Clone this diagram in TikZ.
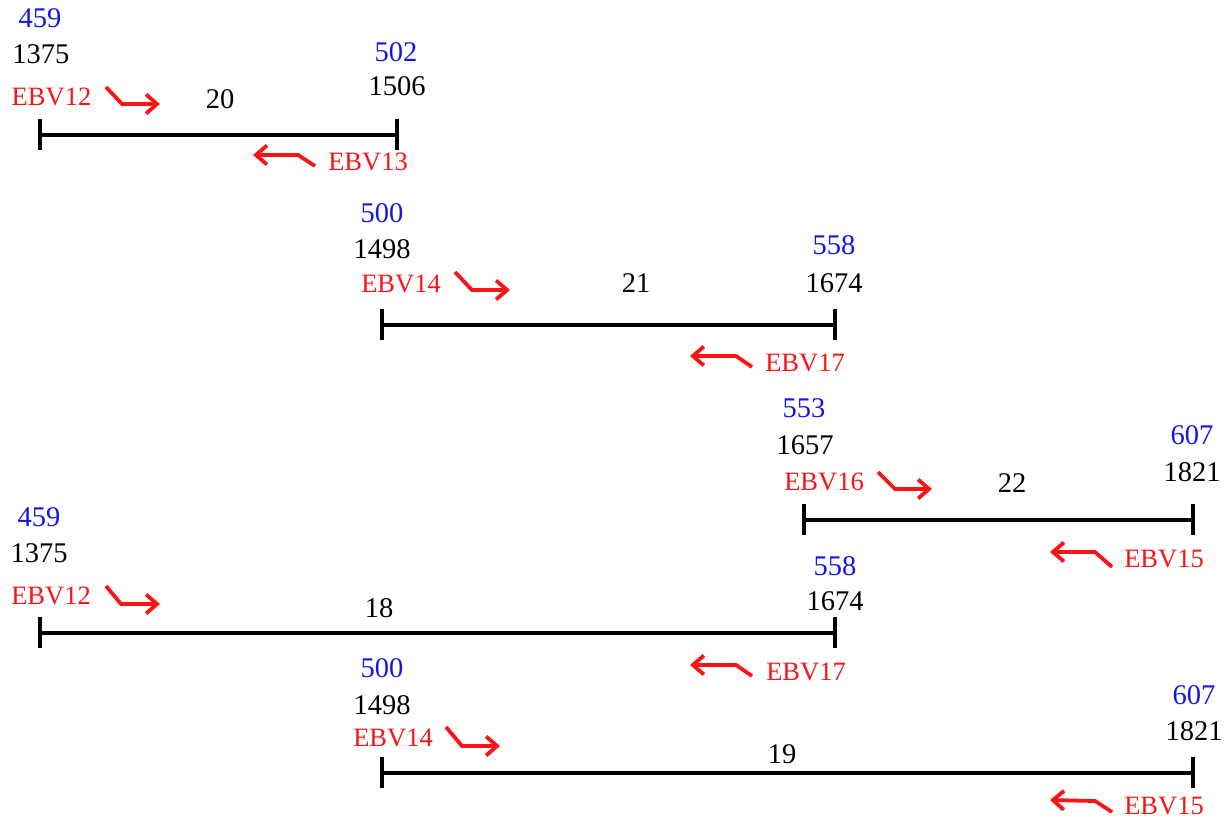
\documentclass[tikz,border=0pt]{standalone}
\usepackage{fontspec}
\setmainfont{Liberation Serif}
\usetikzlibrary{arrows.meta}
\definecolor{idxblue}{RGB}{20,20,235}
\definecolor{primred}{RGB}{250,20,20}
\tikzset{
  num/.style={inner sep=0pt, font=\fontsize{28.5}{30}\selectfont, text=black},
  idx/.style={inner sep=0pt, font=\fontsize{28.5}{30}\selectfont, text=idxblue},
  lab/.style={inner sep=0pt, font=\fontsize{26.5}{28}\selectfont, text=primred},
  barline/.style={line width=4pt, black},
  tickline/.style={line width=4.5pt, black},
  primer/.style={line width=3.8pt, primred, -{Straight Barb[length=11pt,width=19pt]}},
}
\begin{document}
\begin{tikzpicture}[x=1pt,y=-1pt]
\useasboundingbox (0,0) rectangle (1230,821);
% ---------- Fragment 20 ----------
\coordinate (a1) at (40,135); \coordinate (a2) at (397,135);
\draw[barline] (a1) -- (a2);
\draw[tickline] ([yshift=-15pt]a1) -- ([yshift=16pt]a1);
\draw[tickline] ([yshift=-15pt]a2) -- ([yshift=16pt]a2);
\node[idx] (a459) at (40,18) {459};
\node[num] (a1375) at (41,54) {1375};
\node[lab] (aEBV12) at (51.5,97) {EBV12};
\node[num] (a20) at (220,99) {20};
\node[idx] (a502) at (396,52) {502};
\node[num] (a1506) at (397,86) {1506};
\node[lab] (aEBV13) at (368,162) {EBV13};
\coordinate (af1) at (106,87); \coordinate (af2) at (122,104); \coordinate (af3) at (160,104);
\draw[primer] (af1) -- (af2) -- (af3);
\coordinate (ar1) at (315,166); \coordinate (ar2) at (298,155); \coordinate (ar3) at (253,155);
\draw[primer] (ar1) -- (ar2) -- (ar3);
% ---------- Fragment 21 ----------
\coordinate (b1) at (382,325); \coordinate (b2) at (835,325);
\draw[barline] (b1) -- (b2);
\draw[tickline] ([yshift=-15pt]b1) -- ([yshift=16pt]b1);
\draw[tickline] ([yshift=-15pt]b2) -- ([yshift=16pt]b2);
\node[idx] (b500) at (382,213) {500};
\node[num] (b1498) at (382,249) {1498};
\node[lab] (bEBV14) at (401,284) {EBV14};
\node[num] (b21) at (636,283) {21};
\node[idx] (b558) at (834,245) {558};
\node[num] (b1674) at (834,283) {1674};
\node[lab] (bEBV17) at (805,363) {EBV17};
\coordinate (bf1) at (455,272); \coordinate (bf2) at (472,290); \coordinate (bf3) at (510,290);
\draw[primer] (bf1) -- (bf2) -- (bf3);
\coordinate (br1) at (752,367); \coordinate (br2) at (736,356); \coordinate (br3) at (690,356);
\draw[primer] (br1) -- (br2) -- (br3);
% ---------- Fragment 22 ----------
\coordinate (c1) at (804,520); \coordinate (c2) at (1193,520);
\draw[barline] (c1) -- (c2);
\draw[tickline] ([yshift=-15pt]c1) -- ([yshift=16pt]c1);
\draw[tickline] ([yshift=-15pt]c2) -- ([yshift=16pt]c2);
\node[idx] (c553) at (804,408) {553};
\node[num] (c1657) at (805,445) {1657};
\node[lab] (cEBV16) at (824,482) {EBV16};
\node[num] (c22) at (1012,483) {22};
\node[idx] (c607) at (1192,435) {607};
\node[num] (c1821) at (1192,472) {1821};
\node[lab] (cEBV15) at (1164,559) {EBV15};
\coordinate (cf1) at (878,472); \coordinate (cf2) at (895,489); \coordinate (cf3) at (932,489);
\draw[primer] (cf1) -- (cf2) -- (cf3);
\coordinate (cr1) at (1112,567); \coordinate (cr2) at (1095,552); \coordinate (cr3) at (1050,552);
\draw[primer] (cr1) -- (cr2) -- (cr3);
% ---------- Fragment 18 ----------
\coordinate (d1) at (40,633); \coordinate (d2) at (835,633);
\draw[barline] (d1) -- (d2);
\draw[tickline] ([yshift=-15pt]d1) -- ([yshift=16pt]d1);
\draw[tickline] ([yshift=-15pt]d2) -- ([yshift=16pt]d2);
\node[idx] (d459) at (39,517) {459};
\node[num] (d1375) at (39,553) {1375};
\node[lab] (dEBV12) at (51,596) {EBV12};
\node[num] (d18) at (379,608) {18};
\node[idx] (d558) at (835,566) {558};
\node[num] (d1674) at (835,601) {1674};
\node[lab] (dEBV17) at (806,672) {EBV17};
\coordinate (df1) at (106,586); \coordinate (df2) at (121,604); \coordinate (df3) at (160,604);
\draw[primer] (df1) -- (df2) -- (df3);
\coordinate (dr1) at (752,676); \coordinate (dr2) at (736,665); \coordinate (dr3) at (690,665);
\draw[primer] (dr1) -- (dr2) -- (dr3);
% ---------- Fragment 19 ----------
\coordinate (e1) at (382,773); \coordinate (e2) at (1193,773);
\draw[barline] (e1) -- (e2);
\draw[tickline] ([yshift=-15pt]e1) -- ([yshift=16pt]e1);
\draw[tickline] ([yshift=-15pt]e2) -- ([yshift=16pt]e2);
\node[idx] (e500) at (382,668) {500};
\node[num] (e1498) at (382,705) {1498};
\node[lab] (eEBV14) at (393,738) {EBV14};
\node[num] (e19) at (782,754) {19};
\node[idx] (e607) at (1194,695) {607};
\node[num] (e1821) at (1194,731) {1821};
\node[lab] (eEBV15) at (1164,806) {EBV15};
\coordinate (ef1) at (446,727); \coordinate (ef2) at (462,746); \coordinate (ef3) at (500,746);
\draw[primer] (ef1) -- (ef2) -- (ef3);
\coordinate (er1) at (1112,812); \coordinate (er2) at (1095,801); \coordinate (er3) at (1050,800);
\draw[primer] (er1) -- (er2) -- (er3);
\end{tikzpicture}
\end{document}
